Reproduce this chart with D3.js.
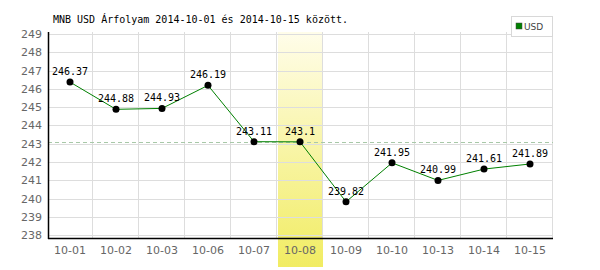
<!DOCTYPE html>
<html>
<head>
<meta charset="utf-8">
<script src="https://d3js.org/d3.v7.min.js"></script>
<style>
  body { margin: 0; background: #fff; }
  .tick text { font-family: "DejaVu Sans", sans-serif; font-size: 11px; fill: #666; }
  .mono { font-family: "DejaVu Sans Mono", monospace; font-size: 10px; fill: #000; }
</style>
</head>
<body>
<div id="chart"></div>
<script>
// data
const days = ["10-01","10-02","10-03","10-06","10-07","10-08","10-09","10-10","10-13","10-14","10-15"];
const rates = [246.37, 244.88, 244.93, 246.19, 243.11, 243.1, 239.82, 241.95, 240.99, 241.61, 241.89];
const yTicks = [238, 239, 240, 241, 242, 243, 244, 245, 246, 247, 248, 249];
const highlightDay = "10-08";
const refValue = 243.1;

const W = 600, H = 270;
const pLeft = 47, pRight = 553, pTop = 32, pBottom = 238;

const svg = d3.select("#chart").append("svg")
  .attr("width", W).attr("height", H);

const x = d3.scaleBand().domain(days).range([pLeft, pRight]);
const y = d3.scaleLinear().domain([237.84, 249.11]).range([pBottom, pTop]);

// gradient for highlighted day
const grad = svg.append("defs").append("linearGradient")
  .attr("id", "hl").attr("x1", 0).attr("y1", 0).attr("x2", 0).attr("y2", 1);
grad.append("stop").attr("offset", "0%").attr("stop-color", "#fffdea");
grad.append("stop").attr("offset", "100%").attr("stop-color", "#f1ec62");

svg.append("rect")
  .attr("x", x(highlightDay) + 1)
  .attr("y", pTop)
  .attr("width", x.bandwidth() - 1)
  .attr("height", 267 - pTop)
  .attr("fill", "url(#hl)");

// horizontal grid
svg.append("g").selectAll("line")
  .data(yTicks).join("line")
  .attr("x1", pLeft + 1).attr("x2", pRight)
  .attr("y1", d => Math.round(y(d)) + 0.5).attr("y2", d => Math.round(y(d)) + 0.5)
  .attr("stroke", "#dddddd");

// vertical grid at band edges
svg.append("g").selectAll("line")
  .data(days.slice(1).concat(["end"])).join("line")
  .attr("x1", d => (d === "end" ? pRight : x(d)) - 0.5)
  .attr("x2", d => (d === "end" ? pRight : x(d)) - 0.5)
  .attr("y1", pTop).attr("y2", pBottom)
  .attr("stroke", "#dddddd");

// reference dashed line
svg.append("line")
  .attr("x1", pLeft + 1).attr("x2", pRight)
  .attr("y1", Math.round(y(refValue)) + 0.5).attr("y2", Math.round(y(refValue)) + 0.5)
  .attr("stroke", "#a8c8a8")
  .attr("stroke-dasharray", "4,3");

// axes
const yAxis = svg.append("g")
  .attr("transform", "translate(" + (pLeft + 1) + ",0)")
  .call(d3.axisLeft(y).tickValues(yTicks).tickSize(0).tickPadding(6));
yAxis.select(".domain").remove();

const xAxis = svg.append("g")
  .attr("transform", "translate(0," + pBottom + ")")
  .call(d3.axisBottom(x).tickSize(0).tickPadding(8));
xAxis.select(".domain").remove();

svg.append("line")
  .attr("x1", pLeft + 1.5).attr("x2", pLeft + 1.5)
  .attr("y1", pTop).attr("y2", pBottom + 1)
  .attr("stroke", "#000").attr("stroke-width", 1.5);
svg.append("line")
  .attr("x1", pLeft + 1).attr("x2", pRight)
  .attr("y1", pBottom + 0.5).attr("y2", pBottom + 0.5)
  .attr("stroke", "#000").attr("stroke-width", 1.5);

// line
const cx = d => x(d) + x.bandwidth() / 2;
svg.append("path")
  .datum(rates)
  .attr("fill", "none")
  .attr("stroke", "#008000")
  .attr("stroke-width", 1)
  .attr("d", d3.line().x((d, i) => cx(days[i])).y(d => y(d)));

// points
svg.append("g").selectAll("circle")
  .data(rates).join("circle")
  .attr("cx", (d, i) => cx(days[i]))
  .attr("cy", d => y(d))
  .attr("r", 3.5)
  .attr("fill", "#000");

// value labels
svg.append("g").selectAll("text")
  .data(rates).join("text")
  .attr("class", "mono")
  .attr("x", (d, i) => cx(days[i]))
  .attr("y", d => y(d) - 7)
  .attr("text-anchor", "middle")
  .text(d => String(d));

// title
svg.append("text")
  .attr("class", "mono")
  .attr("x", 53).attr("y", 23)
  .text("MNB USD Árfolyam 2014-10-01 és 2014-10-15 között.");

// legend
svg.append("rect")
  .attr("x", 511.5).attr("y", 16.5).attr("width", 41).attr("height", 20)
  .attr("fill", "#fff").attr("stroke", "#d8d8d8");
svg.append("rect")
  .attr("x", 516).attr("y", 23).attr("width", 6).attr("height", 6)
  .attr("fill", "#008000").attr("stroke", "#444").attr("stroke-width", 0.5);
svg.append("text")
  .attr("x", 524).attr("y", 30)
  .style("font-family", "DejaVu Sans, sans-serif")
  .style("font-size", "9px")
  .attr("fill", "#444")
  .text("USD");
</script>
</body>
</html>
